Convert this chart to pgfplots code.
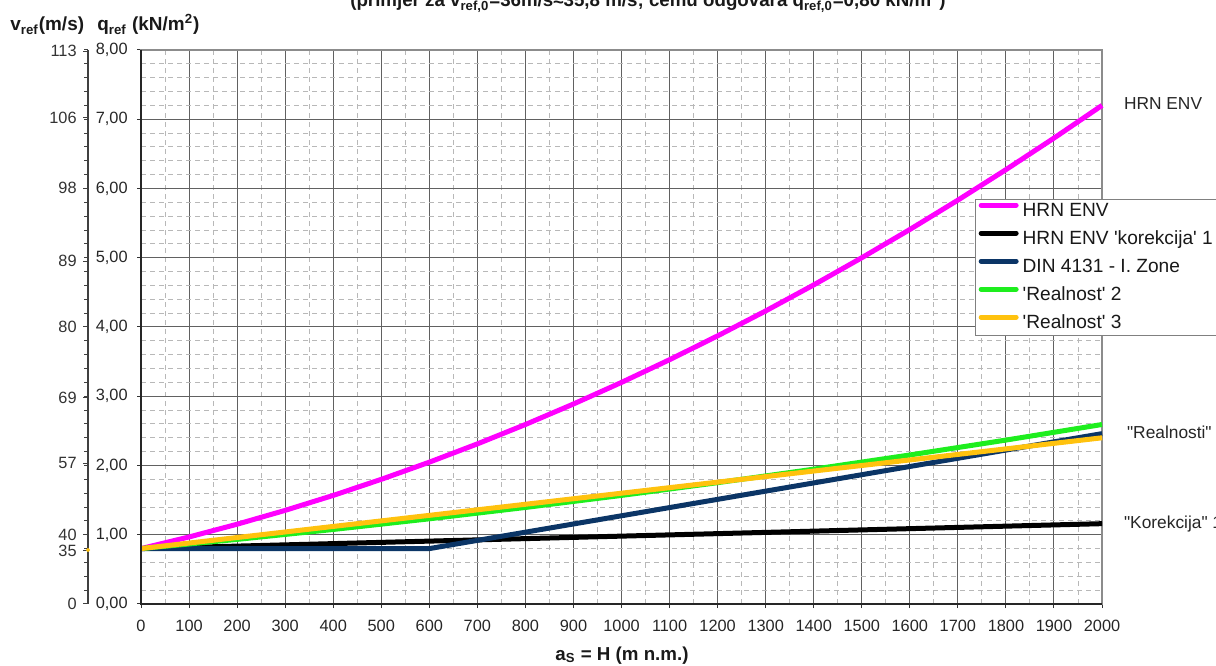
\documentclass[border=0pt]{standalone}
\usepackage{pgfplots}
\pgfplotsset{compat=1.18}
\usepackage{fontspec}
\setmainfont{Liberation Sans}
\definecolor{cmag}{HTML}{FF00FF}
\definecolor{cblue}{HTML}{0B3566}
\definecolor{cgreen}{HTML}{1EEE1E}
\definecolor{corange}{HTML}{FFC20E}
\begin{document}
\begin{tikzpicture}[x=0.5bp,y=0.5bp]
\useasboundingbox (0,0) rectangle (1216,665);
% secondary v_ref axis
\begin{axis}[at={(44bp,30.5bp)}, anchor=south west, scale only axis, width=1bp, height=277bp,
  xmin=0, xmax=1, ymin=0, ymax=8, hide x axis, axis y line=left, clip=false,
  y axis line style={-, black!75, line width=0.6bp},
  ytick={0,0.765625,1,2.030625,2.975625,4,4.950625,6.0025,7.0225,7.980625},
  yticklabels={0,35,40,57,69,80,89,98,106,113},
  minor ytick={0,0.2,...,8},
  tick align=outside, major tick length=2.5bp, minor tick length=2bp,
  tick style={black!75, line width=0.5bp},
  ticklabel style={font=\fontsize{8.2}{9.5}\selectfont, text=black!80},
  yticklabel style={inner sep=0pt, xshift=-3bp}]
\addplot[only marks, mark=*, mark size=0.8bp, color=corange] coordinates {(0,0.78)};
\end{axis}
% main axis
\begin{axis}[at={(70.5bp,30.5bp)}, anchor=south west, scale only axis, width=480.5bp, height=277bp,
  xmin=0, xmax=2000, ymin=0, ymax=8, clip=false,
  xtick={0,100,...,2000}, ytick={0,1,...,8},
  minor x tick num=1, minor y tick num=4,
  grid=both,
  major grid style={black!62, line width=0.5bp},
  minor grid style={black!28, dash pattern=on 2.5bp off 2bp, line width=0.5bp},
  tick align=outside, tick pos=left, major tick length=2bp, minor tick length=0pt,
  axis line style={black!45, line width=0.8bp},
  tick style={black!80, line width=0.5bp},
  ticklabel style={font=\fontsize{8.2}{9.5}\selectfont, text=black!85},
  /pgf/number format/assume math mode=true,
  yticklabel={\pgfmathprintnumber[fixed,fixed zerofill,precision=2,use comma]{\tick}},
  xticklabel={\pgfmathprintnumber[fixed,precision=0,1000 sep={}]{\tick}},
  xticklabel style={inner sep=0pt, yshift=-6bp},
  yticklabel style={inner sep=0pt, xshift=-4.5bp},
  legend style={at={(rel axis cs:0.868,0.731)}, anchor=north west, draw=black!50,
    line width=0.5bp, fill=white, font=\fontsize{9.6}{11}\selectfont, text=black!90,
    inner xsep=1.5bp, inner ysep=1bp, row sep=4bp,
    nodes={inner sep=0.5bp, text height=7bp, text depth=2bp},
    /tikz/every odd column/.append style={column sep=1.5bp}},
  legend cell align=left,
  legend image code/.code={\draw[#1, line width=2.5bp, line cap=round] (0bp,3.2bp) -- (17.5bp,3.2bp);},
  after end axis/.code={\draw[black!85, line width=0.7bp] (rel axis cs:0,1) -- (rel axis cs:0,0) -- (rel axis cs:1,0);}
]
\addplot[cmag, line width=2.5bp] coordinates {
(0,0.800) (100,0.968) (200,1.152) (300,1.352) (400,1.568) (500,1.800) (600,2.048)
(700,2.312) (800,2.592) (900,2.888) (1000,3.200) (1100,3.528) (1200,3.872)
(1300,4.232) (1400,4.608) (1500,5.000) (1600,5.408) (1700,5.832) (1800,6.272)
(1900,6.728) (2000,7.200)};
\addlegendentry{HRN ENV}
\addplot[black, line width=2.5bp] coordinates {
(0,0.80) (500,0.89) (1000,0.98) (1500,1.07) (2000,1.16)};
\addlegendentry{HRN ENV \textquotesingle korekcija\textquotesingle\ 1}
\addplot[cblue, line width=2.5bp] coordinates {
(0,0.80) (600,0.80) (1000,1.274) (1500,1.867) (2000,2.46)};
\addlegendentry{DIN 4131 - I. Zone}
\addplot[cgreen, line width=2.5bp] coordinates {
(0,0.800) (200,0.933) (400,1.076) (600,1.230) (800,1.394) (1000,1.568) (1200,1.752)
(1400,1.947) (1600,2.152) (1800,2.367) (2000,2.592)};
\addlegendentry{\textquotesingle Realnost\textquotesingle\ 2}
\addplot[corange, line width=2.5bp] coordinates {
(0,0.80) (500,1.20) (1000,1.60) (1500,2.00) (2000,2.40)};
\addlegendentry{\textquotesingle Realnost\textquotesingle\ 3}
\node[anchor=west, font=\fontsize{8.7}{10}\selectfont, text=black!85, xshift=7.5bp] at (axis cs:2000,7.23) {HRN ENV};
\node[anchor=west, font=\fontsize{8.7}{10}\selectfont, text=black!85, xshift=9bp] at (axis cs:2000,2.48) {\textquotedbl Realnosti\textquotedbl};
\node[anchor=west, font=\fontsize{8.7}{10}\selectfont, text=black!85, xshift=7.5bp] at (axis cs:2000,1.155) {\textquotedbl Korekcija\textquotedbl\ 1};
\end{axis}
\node[anchor=base west, inner sep=0pt, font=\bfseries\fontsize{9.5}{11}\selectfont, text=black!90] at (10,634) {v\textsubscript{ref}(m/s)};
\node[anchor=base west, inner sep=0pt, font=\bfseries\fontsize{9.5}{11}\selectfont, text=black!90] at (97,634) {q\textsubscript{ref} (kN/m\textsuperscript{2})};
\node[anchor=base, font=\bfseries\fontsize{9.4}{11}\selectfont, text=black!90] at (622,5) {a\textsubscript{S} = H (m n.m.)};
\node[anchor=base, font=\bfseries\fontsize{9.4}{11}\selectfont, text=black!90] at (648,658) {(primjer za v\textsubscript{ref,0}=36m/s≈35,8 m/s; čemu odgovara q\textsubscript{ref,0}=0,80 kN/m\textsuperscript{2})};
\end{tikzpicture}
\end{document}
